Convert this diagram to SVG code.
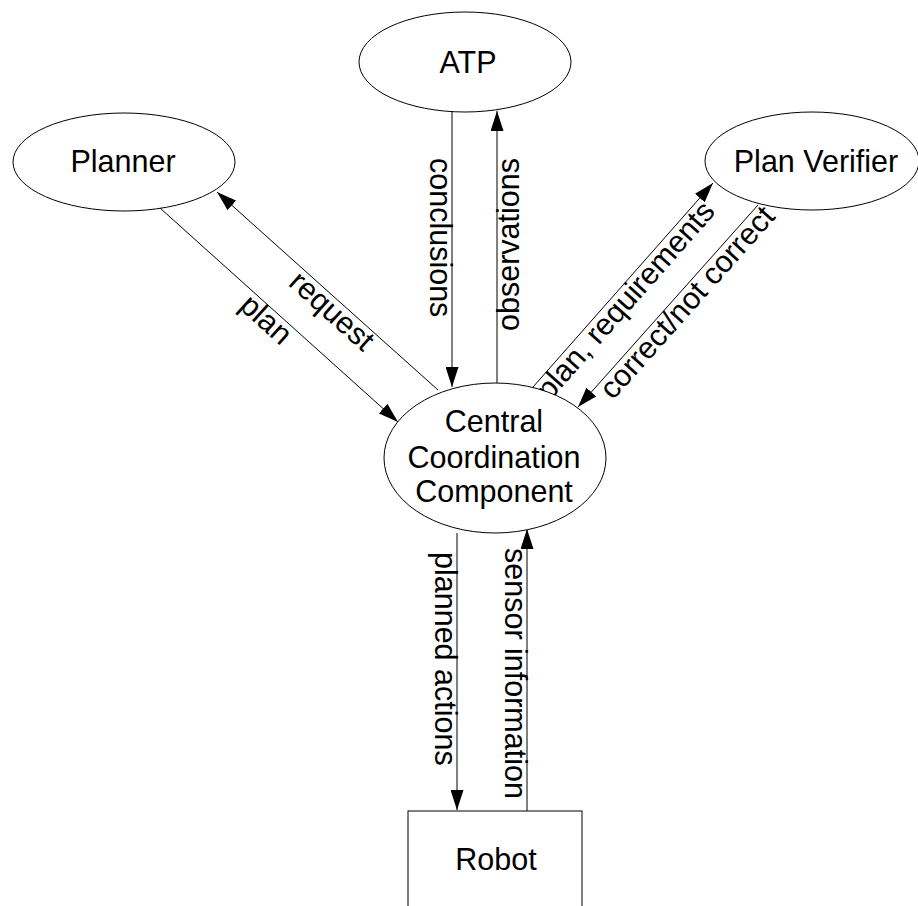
<svg xmlns="http://www.w3.org/2000/svg" width="918" height="906" viewBox="0 0 918 906">
<defs>
<style>
.node{fill:#fff;stroke:#000;stroke-width:1}
.t{font-family:"Liberation Sans",Arial,sans-serif;font-size:30.5px;fill:#000}
.m{text-anchor:middle}
.edge{stroke:#000;stroke-width:1;fill:none;marker-end:url(#arr)}
</style>
<marker id="arr" markerUnits="userSpaceOnUse" markerWidth="20" markerHeight="13" refX="20" refY="6.5" orient="auto">
<path d="M0,0 L20,6.5 L0,13 Z" fill="#000"/>
</marker>
</defs>
<rect width="918" height="906" fill="#fff"/>
<g id="connectors">
<line class="edge" x1="160" y1="208" x2="398" y2="422"/>
<line class="edge" x1="438" y1="390" x2="217" y2="192"/>
<line class="edge" x1="452" y1="110" x2="452" y2="387"/>
<line class="edge" x1="497" y1="383" x2="497" y2="111"/>
<line class="edge" x1="533" y1="387" x2="713" y2="183"/>
<line class="edge" x1="758" y1="205" x2="578" y2="407"/>
<line class="edge" x1="457" y1="533" x2="457" y2="810"/>
<line class="edge" x1="527" y1="811" x2="527" y2="529"/>
<text class="t m" transform="translate(259.4,327) rotate(42)">plan</text>
<text class="t m" transform="translate(325.2,318.5) rotate(41.9)">request</text>
<text class="t" transform="translate(430,158) rotate(90)">conclusions</text>
<text class="t" text-anchor="end" transform="translate(519,158) rotate(-90)">observations</text>
<text class="t m" transform="translate(632.9,307.1) rotate(-48.6)">plan, requirements</text>
<text class="t m" transform="translate(694.7,309.1) rotate(-48.3)">correct/not correct</text>
<text class="t" transform="translate(435,552) rotate(90)">planned actions</text>
<text class="t" transform="translate(505,548) rotate(90)">sensor information</text>
</g>
<g id="atp">
<ellipse class="node" cx="465" cy="62" rx="106" ry="50"/>
<text class="t m" x="468" y="73">ATP</text>
</g>
<g id="planner">
<ellipse class="node" cx="124" cy="162" rx="111" ry="49"/>
<text class="t m" x="123" y="172">Planner</text>
</g>
<g id="plan-verifier">
<ellipse class="node" cx="812" cy="161" rx="107" ry="49"/>
<text class="t m" x="816" y="172">Plan Verifier</text>
</g>
<g id="central">
<ellipse class="node" cx="495" cy="458" rx="111" ry="75"/>
<text class="t m" x="494" y="432">Central</text>
<text class="t m" x="494" y="468">Coordination</text>
<text class="t m" x="494" y="502">Component</text>
</g>
<g id="robot">
<rect class="node" x="408" y="811" width="174" height="120"/>
<text class="t m" x="496" y="870">Robot</text>
</g>
</svg>
